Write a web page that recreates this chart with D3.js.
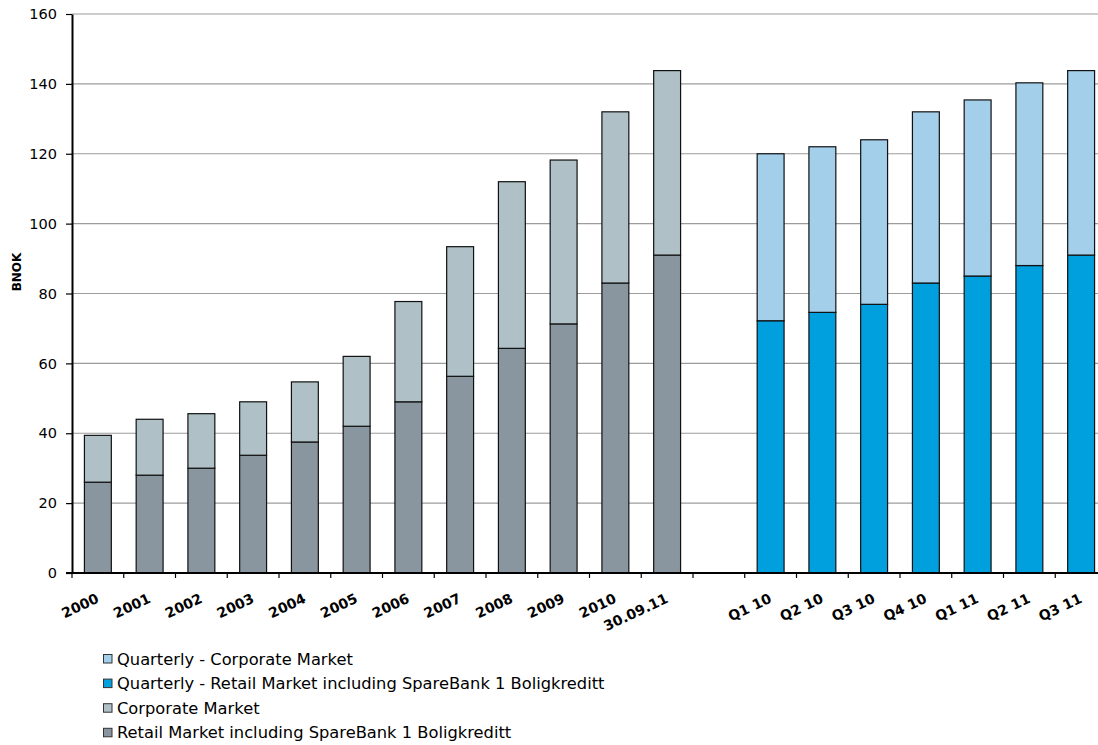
<!DOCTYPE html>
<html>
<head>
<meta charset="utf-8">
<script src="https://cdn.jsdelivr.net/npm/d3@7"></script>
<style>
  html, body { margin: 0; padding: 0; background: #fff; }
  svg { display: block; }
  text { font-family: "DejaVu Sans", Verdana, sans-serif; }
</style>
</head>
<body>
<svg id="chart" width="1098" height="745"></svg>
<script>
// Lending volumes, BNOK
const categories = ["2000","2001","2002","2003","2004","2005","2006","2007","2008","2009","2010","30.09.11","",
                    "Q1 10","Q2 10","Q3 10","Q4 10","Q1 11","Q2 11","Q3 11"];

// Annual figures (blank slot and quarters are null)
const retailMarket    = [26, 28, 30, 33.7, 37.5, 42, 49, 56.3, 64.3, 71.3, 83, 91, null, null, null, null, null, null, null, null];
const corporateMarket = [13.4, 16, 15.6, 15.3, 17.2, 20, 28.7, 37.1, 47.7, 46.9, 49, 52.8, null, null, null, null, null, null, null, null];

// Quarterly figures
const quarterlyRetail    = [null, null, null, null, null, null, null, null, null, null, null, null, null, 72.2, 74.6, 76.9, 83, 85, 88, 91];
const quarterlyCorporate = [null, null, null, null, null, null, null, null, null, null, null, null, null, 47.8, 47.4, 47.1, 49, 50.4, 52.3, 52.8];

const yTicks = [0, 20, 40, 60, 80, 100, 120, 140, 160];

const seriesNames = [
  "Quarterly - Corporate Market",
  "Quarterly - Retail Market including SpareBank 1 Boligkreditt",
  "Corporate Market",
  "Retail Market including SpareBank 1 Boligkreditt"
];
const seriesColors = ["#a3cfeb", "#009fdd", "#afc0c6", "#8a969f"];

const svg = d3.select("#chart");
const plot = { left: 72, right: 1107, top: 14, bottom: 573 };

const x = d3.scaleBand()
  .domain(categories.map((c, i) => i))
  .range([plot.left, plot.right])
  .paddingInner(0.48)
  .paddingOuter(0.24);

const y = d3.scaleLinear().domain([0, 160]).range([plot.bottom, plot.top]);

// Horizontal gridlines
svg.append("g")
  .selectAll("line")
  .data(yTicks.filter(t => t > 0))
  .join("line")
  .attr("x1", plot.left).attr("x2", 1098)
  .attr("y1", d => y(d)).attr("y2", d => y(d))
  .attr("stroke", "#9c9c9c").attr("stroke-width", 1.2);

// Stacked bars: bottom segment then top segment
const stacks = categories.map((c, i) => {
  const quarterly = quarterlyRetail[i] != null;
  const lower = quarterly ? quarterlyRetail[i] : retailMarket[i];
  const upper = quarterly ? quarterlyCorporate[i] : corporateMarket[i];
  return { i, quarterly, lower, upper };
}).filter(d => d.lower != null);

const barG = svg.append("g");
stacks.forEach(d => {
  const bx = x(d.i), bw = x.bandwidth();
  barG.append("rect")
    .attr("x", bx).attr("width", bw)
    .attr("y", y(d.lower)).attr("height", y(0) - y(d.lower))
    .attr("fill", d.quarterly ? seriesColors[1] : seriesColors[3])
    .attr("stroke", "#111").attr("stroke-width", 1.2);
  barG.append("rect")
    .attr("x", bx).attr("width", bw)
    .attr("y", y(d.lower + d.upper)).attr("height", y(d.lower) - y(d.lower + d.upper))
    .attr("fill", d.quarterly ? seriesColors[0] : seriesColors[2])
    .attr("stroke", "#111").attr("stroke-width", 1.2);
});

// Y axis
const yAxis = svg.append("g")
  .attr("transform", `translate(${plot.left},0)`)
  .call(d3.axisLeft(y).tickValues(yTicks).tickSize(6).tickPadding(9).tickSizeOuter(0));
yAxis.select(".domain").attr("stroke", "#000").attr("stroke-width", 2);
yAxis.selectAll(".tick line").attr("stroke", "#000").attr("stroke-width", 1.2);
yAxis.selectAll(".tick text")
  .attr("font-size", 14.5).attr("fill", "#000")
  .style("font-family", "'DejaVu Sans', Verdana, sans-serif");

// X axis line and category boundary ticks
const xAxisG = svg.append("g");
xAxisG.append("line")
  .attr("x1", plot.left - 6).attr("x2", 1098)
  .attr("y1", plot.bottom).attr("y2", plot.bottom)
  .attr("stroke", "#000").attr("stroke-width", 2);
const step = x.step();
xAxisG.selectAll("line.tk")
  .data(d3.range(categories.length + 1))
  .join("line").attr("class", "tk")
  .attr("x1", i => plot.left + i * step).attr("x2", i => plot.left + i * step)
  .attr("y1", plot.bottom).attr("y2", plot.bottom + 5)
  .attr("stroke", "#000").attr("stroke-width", 1.2);

// Rotated category labels
xAxisG.selectAll("text.cat")
  .data(categories.map((c, i) => ({ c, i })).filter(d => d.c !== ""))
  .join("text").attr("class", "cat")
  .attr("transform", d => `translate(${x(d.i) + x.bandwidth() / 2 + 2},${plot.bottom + 29}) rotate(-25)`)
  .attr("text-anchor", "end")
  .attr("font-size", 14)
  .attr("font-weight", "bold")
  .attr("fill", "#000")
  .text(d => d.c);

// Axis title
svg.append("text")
  .attr("transform", `translate(21,272) rotate(-90)`)
  .attr("text-anchor", "middle")
  .attr("font-size", 12).attr("font-weight", "bold")
  .text("BNOK");

// Legend
const legend = svg.append("g").attr("transform", "translate(103,654)");
seriesNames.forEach((name, k) => {
  const row = legend.append("g").attr("transform", `translate(0,${k * 24.6})`);
  row.append("rect").attr("x", 0.5).attr("y", 0.5).attr("width", 8.5).attr("height", 8.5)
    .attr("fill", seriesColors[k]).attr("stroke", "#333").attr("stroke-width", 1);
  row.append("text").attr("x", 14).attr("y", 10.5)
    .attr("font-size", 16.3).attr("fill", "#000")
    .text(name);
});
</script>
</body>
</html>
